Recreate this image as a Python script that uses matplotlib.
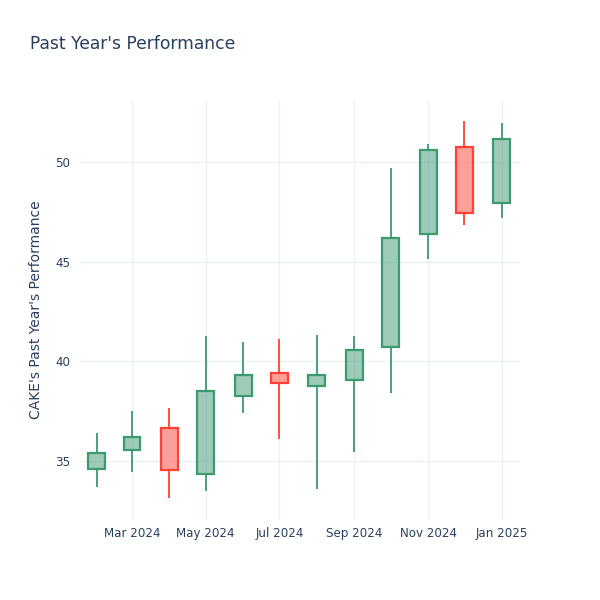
import datetime as dt
import matplotlib
matplotlib.use("Agg")
import matplotlib.pyplot as plt
import matplotlib.dates as mdates

# monthly candles, CAKE
months = ["2024-02-01", "2024-03-01", "2024-04-01", "2024-05-01", "2024-06-01", "2024-07-01",
          "2024-08-01", "2024-09-01", "2024-10-01", "2024-11-01", "2024-12-01", "2025-01-01"]
opens = [34.56, 35.51, 36.63, 34.32, 38.24, 39.41, 38.74, 39.05, 40.72, 46.37, 50.77, 47.92]
highs = [36.37, 37.49, 37.64, 41.26, 40.95, 41.11, 41.32, 41.26, 49.71, 50.90, 52.06, 51.94]
lows = [33.65, 34.42, 33.10, 33.48, 37.37, 36.07, 33.55, 35.43, 38.41, 45.11, 46.83, 47.20]
closes = [35.39, 36.17, 34.54, 38.49, 39.30, 38.89, 39.31, 40.55, 46.20, 50.60, 47.42, 51.14]

up_line = "#3D9970"
up_fill = (61 / 255, 153 / 255, 112 / 255, 0.5)
down_line = "#FF4136"
down_fill = (1.0, 65 / 255, 54 / 255, 0.5)
text_col = "#2a3f5f"
grid_col = "#EBF0F8"

fig = plt.figure(figsize=(6, 6), dpi=100)
ax = fig.add_axes([80 / 600, 80 / 600, 440 / 600, 420 / 600])

x = [mdates.date2num(dt.datetime.strptime(m, "%Y-%m-%d")) for m in months]
width = 14

for xi, o, h, l, c in zip(x, opens, highs, lows, closes):
    if c >= o:
        lc, fc = up_line, up_fill
    else:
        lc, fc = down_line, down_fill
    lo_body, hi_body = min(o, c), max(o, c)
    ax.vlines(xi, hi_body, h, color=lc, linewidth=1.3, zorder=3)
    ax.vlines(xi, l, lo_body, color=lc, linewidth=1.3, zorder=3)
    ax.bar(xi, hi_body - lo_body, bottom=lo_body, width=width, color=fc,
           edgecolor=lc, linewidth=1.6, zorder=4)

ax.set_xlim(mdates.date2num(dt.datetime(2024, 1, 18)), mdates.date2num(dt.datetime(2025, 1, 16)))
ax.set_ylim(32.01, 53.12)
ax.set_yticks([35, 40, 45, 50])
ax.xaxis.set_major_locator(mdates.MonthLocator(bymonth=[1, 3, 5, 7, 9, 11]))
ax.xaxis.set_major_formatter(mdates.DateFormatter("%b %Y"))

ax.grid(True, color=grid_col, linewidth=1, zorder=0)
ax.set_axisbelow(True)
for s in ax.spines.values():
    s.set_visible(False)
ax.tick_params(axis="both", length=0, labelsize=8.6, labelcolor=text_col)
ax.tick_params(axis="y", pad=7)
ax.tick_params(axis="x", pad=5)

ax.set_ylabel("CAKE's Past Year's Performance", fontsize=10, color=text_col, labelpad=9)
fig.text(30 / 600, 1 - 44 / 600, "Past Year's Performance", fontsize=12.3, color=text_col,
         ha="left", va="center")

fig.savefig("out.png", dpi=100)
